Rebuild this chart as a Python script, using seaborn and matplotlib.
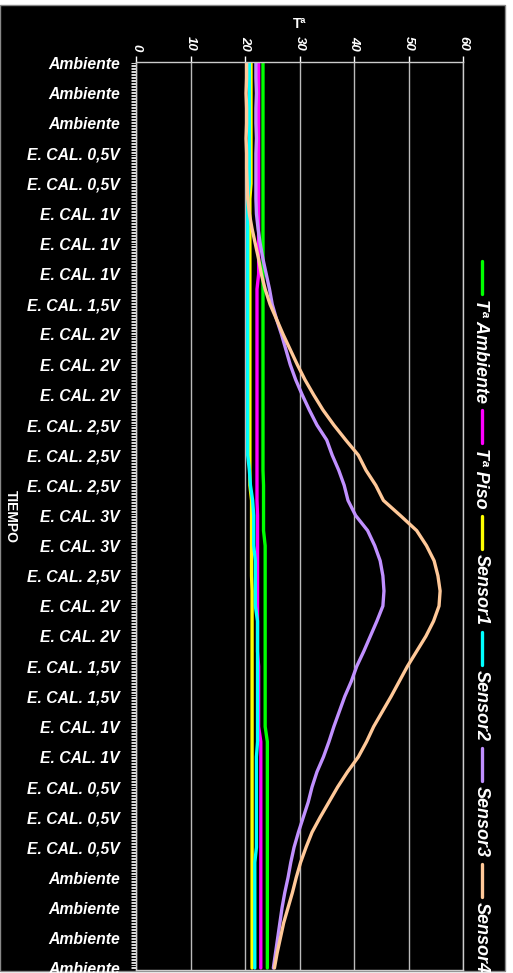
import matplotlib
matplotlib.use("Agg")
import matplotlib.pyplot as plt
import seaborn as sns
import numpy as np
import pandas as pd
from matplotlib.patches import Rectangle
from matplotlib.lines import Line2D

# ---------------- data ----------------
tick_labels = ["Ambiente", "Ambiente", "Ambiente",
               "E. CAL. 0,5V", "E. CAL. 0,5V",
               "E. CAL. 1V", "E. CAL. 1V", "E. CAL. 1V",
               "E. CAL. 1,5V",
               "E. CAL. 2V", "E. CAL. 2V", "E. CAL. 2V",
               "E. CAL. 2,5V", "E. CAL. 2,5V", "E. CAL. 2,5V",
               "E. CAL. 3V", "E. CAL. 3V",
               "E. CAL. 2,5V",
               "E. CAL. 2V", "E. CAL. 2V",
               "E. CAL. 1,5V", "E. CAL. 1,5V",
               "E. CAL. 1V", "E. CAL. 1V",
               "E. CAL. 0,5V", "E. CAL. 0,5V", "E. CAL. 0,5V",
               "Ambiente", "Ambiente", "Ambiente", "Ambiente"]

# time positions (half-category steps)
tiempo = [0.0, 0.5, 1.0, 1.5, 2.0, 2.5, 3.0, 3.5, 4.0, 4.5,
          5.0, 5.5, 6.0, 6.5, 7.0, 7.5, 8.0, 8.5, 9.0, 9.5,
          10.0, 10.5, 11.0, 11.5, 12.0, 12.5, 13.0, 13.5, 14.0, 14.5,
          15.0, 15.5, 16.0, 16.5, 17.0, 17.5, 18.0, 18.5, 19.0, 19.5,
          20.0, 20.5, 21.0, 21.5, 22.0, 22.5, 23.0, 23.5, 24.0, 24.5,
          25.0, 25.5, 26.0, 26.5, 27.0, 27.5, 28.0, 28.5, 29.0, 29.5,
          30.0]

t_ambiente = [23.3, 23.3, 23.3, 23.3, 23.3, 23.3, 23.3, 23.3, 23.3, 23.3,
              23.3, 23.3, 23.3, 23.3, 23.3, 23.3, 23.3, 23.3, 23.3, 23.3,
              23.3, 23.3, 23.3, 23.3, 23.3, 23.3, 23.3, 23.3, 23.4, 23.4,
              23.4, 23.4, 23.7, 23.7, 23.7, 23.7, 23.7, 23.7, 23.7, 23.7,
              23.7, 23.7, 23.7, 23.7, 23.7, 24.1, 24.1, 24.1, 24.1, 24.1,
              24.1, 24.1, 24.1, 24.1, 24.1, 24.1, 24.1, 24.1, 24.1, 24.1,
              24.1]

t_piso = [22.5, 22.5, 22.5, 22.5, 22.5, 22.5, 22.5, 22.5, 22.5, 22.5,
          22.5, 22.5, 22.5, 22.5, 22.5, 22.2, 22.2, 22.2, 22.2, 22.2,
          22.2, 22.2, 22.2, 22.2, 22.2, 22.2, 22.2, 22.2, 22.2, 22.2,
          22.3, 22.3, 22.3, 22.3, 22.3, 22.3, 22.3, 22.3, 22.3, 22.3,
          22.5, 22.5, 22.5, 22.5, 22.5, 22.9, 22.9, 22.9, 22.9, 22.9,
          22.9, 22.9, 22.9, 22.9, 22.9, 22.9, 22.9, 22.9, 22.9, 22.9,
          22.9]

sensor1 = [21.1, 21.1, 21.1, 21.1, 21.1, 21.1, 21.1, 21.1, 21.1, 20.9,
           20.9, 20.9, 20.9, 20.9, 20.9, 20.9, 20.9, 20.9, 20.9, 20.9,
           20.9, 20.9, 20.9, 20.9, 20.9, 20.9, 20.9, 20.9, 20.9, 21.2,
           21.2, 21.2, 21.2, 21.2, 21.2, 21.3, 21.3, 21.3, 21.3, 21.3,
           21.3, 21.3, 21.3, 21.3, 21.3, 21.3, 21.3, 21.3, 21.3, 21.3,
           21.3, 21.3, 21.3, 21.3, 21.3, 21.3, 21.3, 21.3, 21.3, 21.3,
           21.3]

sensor2 = [20.8, 20.8, 20.8, 20.8, 20.8, 20.8, 20.8, 20.8, 20.8, 20.5,
           20.5, 20.5, 20.5, 20.5, 20.5, 20.5, 20.5, 20.5, 20.5, 20.5,
           20.5, 20.5, 20.5, 20.5, 20.5, 20.5, 20.5, 20.8, 21.0, 21.4,
           21.6, 21.6, 21.6, 21.9, 21.9, 21.9, 21.9, 22.3, 22.3, 22.3,
           22.3, 22.3, 22.3, 22.3, 22.3, 22.3, 22.1, 22.1, 22.1, 22.1,
           22.1, 22.1, 22.1, 21.8, 21.8, 21.8, 21.8, 21.8, 21.8, 21.8,
           21.8]

sensor3 = [22.0, 22.0, 22.1, 22.0, 22.0, 22.1, 22.0, 22.0, 22.0, 22.0,
           22.1, 22.4, 22.8, 23.3, 23.9, 24.5, 25.0, 25.8, 26.7, 27.5,
           28.3, 29.3, 30.5, 31.8, 33.2, 35.0, 36.0, 37.2, 38.2, 38.9,
           40.3, 42.5, 43.8, 44.8, 45.3, 45.5, 45.3, 44.2, 43.0, 41.8,
           40.5, 39.5, 38.3, 37.3, 36.3, 35.4, 34.4, 33.2, 32.3, 31.6,
           30.7, 29.8, 29.0, 28.4, 27.9, 27.3, 26.8, 26.4, 26.0, 25.6,
           25.2]

sensor4 = [20.3, 20.3, 20.2, 20.3, 20.3, 20.2, 20.3, 20.3, 20.4, 20.5,
           20.8, 21.3, 21.9, 22.5, 23.0, 23.7, 24.6, 25.8, 27.0, 28.3,
           29.6, 31.0, 32.6, 34.3, 36.3, 38.5, 40.8, 42.2, 44.0, 45.4,
           48.5, 51.5, 53.3, 54.7, 55.4, 55.8, 55.6, 54.6, 53.2, 51.5,
           49.8, 48.3, 46.8, 45.2, 43.6, 42.3, 40.8, 38.8, 37.0, 35.4,
           33.8, 32.3, 31.2, 30.2, 29.4, 28.7, 27.9, 27.1, 26.5, 25.9,
           25.4]

series_names = ["Tª Ambiente", "Tª Piso", "Sensor1", "Sensor2", "Sensor3", "Sensor4"]
series_values = [t_ambiente, t_piso, sensor1, sensor2, sensor3, sensor4]
series_colors = ["#00FF00", "#FF00FF", "#FFFF00", "#00FFFF", "#C090FF", "#FFC898"]

x_ticks = [0, 10, 20, 30, 40, 50, 60]

# ---------------- figure ----------------
sns.set_style("dark")
plt.rcParams["font.family"] = ["Liberation Sans", "DejaVu Sans"]

W, H = 513, 973
fig = plt.figure(figsize=(W / 100, H / 100), dpi=100, facecolor="white")
fig.patches.append(Rectangle((0, 1 - 971 / H), 505 / W, 966 / H,
                             transform=fig.transFigure, facecolor="black",
                             edgecolor="#888888", lw=1, zorder=-10))

ax = fig.add_axes([136 / W, 1 - 970 / H, 327 / W, 908 / H])
ax.set_facecolor("black")

rows = []
for name, vals in zip(series_names, series_values):
    for t, v in zip(tiempo, vals):
        rows.append({"serie": name, "t": t, "temp": v})
df = pd.DataFrame(rows)

sns.lineplot(data=df, x="temp", y="t", hue="serie", hue_order=series_names,
             palette=series_colors, sort=False, estimator=None, lw=2.4,
             legend=False, ax=ax)

ax.set_xlim(0, 60)
ax.set_ylim(30.066, -0.033)
ax.set_xlabel("")
ax.set_ylabel("")

ax.xaxis.tick_top()
ax.set_xticks(x_ticks)
ax.set_xticklabels([str(v) for v in x_ticks], rotation=-90, fontsize=9.5,
                   fontweight="bold", fontstyle="italic", color="white")
ax.tick_params(axis="x", top=True, bottom=False, labeltop=True, labelbottom=False,
               direction="out", length=4, width=1, color="white", pad=4)

ax.set_yticks(range(len(tick_labels)))
ax.set_yticklabels(tick_labels, fontsize=11.3, fontweight="bold",
                   fontstyle="italic", color="white")
ax.set_yticks(np.arange(0, 30.01, 0.05), minor=True)
ax.tick_params(axis="y", which="both", left=True, direction="out",
               length=3.6, width=0.6, color="white", pad=8)

ax.grid(axis="x", color="#BBBBBB", lw=1)
ax.grid(axis="y", visible=False)
for s in ax.spines.values():
    s.set_visible(True)
    s.set_color("#CCCCCC")
    s.set_linewidth(1)

fig.text(300 / W, 1 - 24 / H, "Tª", ha="center", va="center", fontsize=10,
         fontweight="bold", color="white")
fig.text(11 / W, 1 - 517 / H, "TIEMPO", rotation=-90, ha="center", va="center",
         fontsize=10, fontweight="bold", color="white")

# vertical legend on the right
renderer = fig.canvas.get_renderer()
y = 261.0
for name, color in zip(series_names, series_colors):
    fig.add_artist(Line2D([481.5 / W, 481.5 / W], [1 - y / H, 1 - (y + 33) / H],
                          color=color, lw=2.4, transform=fig.transFigure))
    y += 33 + 5
    txt = fig.text(481 / W, 1 - y / H, name, rotation=-90, rotation_mode="anchor",
                   ha="left", va="center", fontsize=13, fontweight="bold",
                   fontstyle="italic", color="white")
    ext = txt.get_window_extent(renderer)
    y += ext.height + 7

fig.savefig("out.png", dpi=100, facecolor=fig.get_facecolor())
